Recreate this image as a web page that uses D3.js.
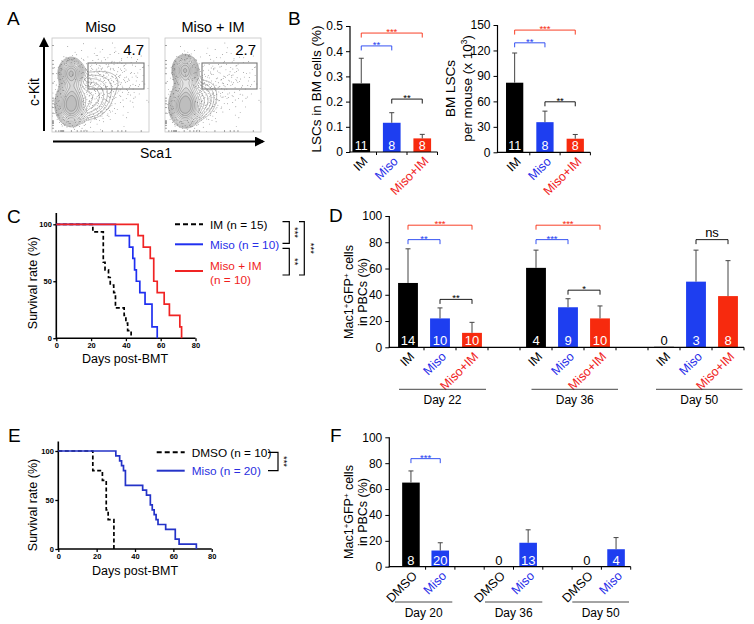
<!DOCTYPE html>
<html><head><meta charset="utf-8">
<script src="https://cdn.jsdelivr.net/npm/d3@7"></script>
<style>body{margin:0;background:#fff}svg{display:block}</style>
</head><body>
<script>
// ================= DATA =================
// Panel A (flow plots)
const flowTitles = ["Miso", "Miso + IM"];
const flowGatePct = ["4.7", "2.7"];
// density components [cx, cy, sx, sy, weight] in plot-local pixels (visual estimate)
const flowCompsMiso = [[19,35,5,6,1.0],[19,67,6,8,1.3],[20,51,5,10,0.4],[36,60,12,12,0.16],[58,42,20,16,0.035]];
const flowCompsMisoIM = [[20,32,5,6,1.0],[20,68,6,8,1.5],[21,50,5,10,0.4],[33,63,10,11,0.13],[58,42,20,16,0.025]];

// Panel B
const bGroups = ["IM", "Miso", "Miso+IM"];
const bLscPct = [0.272, 0.116, 0.054];
const bLscPctErr = [0.100, 0.040, 0.016];
const bLscCount = [82, 35.5, 16];
const bLscCountErr = [35, 13, 5];
const bN = [11, 8, 8];
const bPctTicks = [0, 0.1, 0.2, 0.3, 0.4, 0.5];
const bCountTicks = [0, 30, 60, 90, 120, 150];

// Panel C survival
const cIMDays = [0, 21, 27, 28, 30, 31, 33, 34, 39, 40, 41, 43];
const cIMSurv = [100, 93.3, 66.7, 60, 53.3, 46.7, 40, 26.7, 20, 13.3, 6.7, 0];
const cMisoDays = [0, 34, 42, 44, 45, 46, 48, 51, 55, 58];
const cMisoSurv = [100, 90, 80, 70, 60, 50, 40, 30, 10, 0];
const cComboDays = [0, 47, 50, 54, 56, 58, 62, 65, 71, 72];
const cComboSurv = [100, 90, 80, 70, 50, 40, 30, 20, 10, 0];
const survXTicks = [0, 20, 40, 60, 80];
const survYTicks = [0, 50, 100];

// Panel D
const dDays = ["Day 22", "Day 36", "Day 50"];
const dGroups = ["IM", "Miso", "Miso+IM"];
const dMean = [[49, 22, 11], [60.5, 30.5, 22], [0.4, 50, 39]];
const dErr = [[26, 8, 8], [13.5, 6.5, 9.5], [0, 24, 27]];
const dN = [[14, 10, 10], [4, 9, 10], [0, 3, 8]];
const pctTicks = [0, 20, 40, 60, 80, 100];

// Panel E survival
const eDmsoDays = [0, 18, 23, 25, 26, 29];
const eDmsoSurv = [100, 80, 70, 40, 30, 0];
const eMisoDays = [0, 30, 32, 33, 34, 35, 44, 46, 48, 49, 50, 51, 52, 56, 61, 63, 72];
const eMisoSurv = [100, 95, 90, 85, 80, 65, 60, 55, 45, 40, 35, 30, 25, 20, 10, 5, 0];

// Panel F
const fDays = ["Day 20", "Day 36", "Day 50"];
const fGroups = ["DMSO", "Miso"];
const fMean = [[65, 12.5], [0.4, 18.5], [0.4, 13.5]];
const fErr = [[9, 6], [0, 10], [0, 9]];
const fN = [[8, 20], [0, 13], [0, 4]];

// ================= STYLE =================
const FONT = "'Liberation Sans', Arial, Helvetica, sans-serif";
const BLUE = "#1e3ef0", RED = "#f72a0e", BLUE_T = "#2a2fe8", RED_T = "#f01e1e";
const groupColor = {"IM": "#000", "Miso": BLUE, "Miso+IM": RED, "DMSO": "#000"};
const labelColor = {"IM": "#000", "Miso": BLUE_T, "Miso+IM": RED_T, "DMSO": "#000"};

const svg = d3.select("body").append("svg").attr("width", 754).attr("height", 624)
  .style("font-family", FONT);
svg.append("rect").attr("width", 754).attr("height", 624).attr("fill", "#fff");

function txt(g, x, y, s, o = {}) {
  const t = g.append("text").attr("x", x).attr("y", y).text(s)
    .attr("font-size", o.size || 12).attr("fill", o.color || "#000")
    .attr("text-anchor", o.anchor || "start");
  if (o.weight) t.attr("font-weight", o.weight);
  if (o.rotate !== undefined) t.attr("transform", `rotate(${o.rotate},${x},${y})`);
  return t;
}
function supText(g, x, y, parts, o = {}) {
  const size = o.size || 13;
  const t = g.append("text").attr("x", x).attr("y", y).attr("font-size", size)
    .attr("text-anchor", "middle").attr("fill", "#000");
  if (o.rotate !== undefined) t.attr("transform", `rotate(${o.rotate},${x},${y})`);
  let up = false;
  parts.forEach(([s, sup]) => {
    const ts = t.append("tspan").text(s);
    if (sup) { ts.attr("font-size", size * 0.62); if (!up) { ts.attr("dy", -4.5); up = true; } }
    else if (up) { ts.attr("dy", 4.5); up = false; }
  });
  return t;
}

// panel letters
[["A", 7, 25], ["B", 288, 25], ["C", 7, 223], ["D", 329, 222], ["E", 8, 442], ["F", 330, 442]]
  .forEach(([l, x, y]) => txt(svg, x, y, l, {size: 19}));

// ================= PANEL A =================
function halton(i, b) { let f = 1, r = 0; while (i > 0) { f /= b; r += f * (i % b); i = Math.floor(i / b); } return r; }
function flowPlot(fx, fy, fw, fh, comps, title, pct, gate) {
  const g = svg.append("g");
  const dens = (px, py) => { let s = 0; for (const [cx, cy, sx, sy, w] of comps) { const dx = (px - cx) / sx, dy = (py - cy) / sy; s += w * Math.exp(-0.5 * (dx * dx + dy * dy)); } return s; };
  const vals = new Array(fw * fh);
  for (let j = 0; j < fh; j++) for (let i = 0; i < fw; i++) vals[j * fw + i] = dens(i + 0.5, j + 0.5);
  // scattered events (deterministic low-discrepancy sampling weighted by the density)
  const dots = [];
  for (let k = 1; k < 6000; k++) {
    const px = halton(k, 2) * fw, py = halton(k, 3) * fh, u = halton(k, 5);
    const d = dens(px, py);
    const p = d > 0.3 ? 0.01 : Math.min(0.24, d * 6);
    if (u < p) dots.push([px, py]);
  }
  g.selectAll(".dot").data(dots).join("circle").attr("cx", d => fx + d[0]).attr("cy", d => fy + d[1])
    .attr("r", 0.45).attr("fill", "#666");
  const th = d3.range(12).map(k => 0.035 * Math.pow(1.36, k));
  const cs = d3.contours().size([fw, fh]).thresholds(th)(vals);
  const path = d3.geoPath(d3.geoIdentity().translate([fx, fy]));
  g.selectAll(".ct").data(cs).join("path").attr("d", path)
    .attr("fill", "#000").attr("fill-opacity", d => d.value > 0.25 ? 0.055 : 0)
    .attr("stroke", "#666").attr("stroke-width", 0.45);
  g.append("rect").attr("x", fx).attr("y", fy).attr("width", fw).attr("height", fh)
    .attr("fill", "none").attr("stroke", "#c4c4c4").attr("stroke-width", 0.8);
  const tf = [0.04, 0.07, 0.09, 0.1, 0.11, 0.12, 0.2, 0.26, 0.3, 0.33, 0.36, 0.52, 0.62, 0.68, 0.72, 0.76, 0.92];
  tf.forEach(f => {
    g.append("line").attr("x1", fx + f * fw).attr("x2", fx + f * fw).attr("y1", fy + fh).attr("y2", fy + fh - 2).attr("stroke", "#666").attr("stroke-width", 0.6);
    g.append("line").attr("y1", fy + fh - f * fh).attr("y2", fy + fh - f * fh).attr("x1", fx).attr("x2", fx + 2).attr("stroke", "#666").attr("stroke-width", 0.6);
  });
  g.append("rect").attr("x", fx + gate[0]).attr("y", fy + gate[1]).attr("width", gate[2]).attr("height", gate[3])
    .attr("fill", "none").attr("stroke", "#777").attr("stroke-width", 1.1);
  txt(g, fx + fw / 2, 32, title, {size: 14.5, anchor: "middle"});
  txt(g, fx + fw - 5, 55, pct, {size: 15, anchor: "end"});
}
flowPlot(52, 38, 97, 94, flowCompsMiso, flowTitles[0], flowGatePct[0], [36, 25, 56, 26]);
flowPlot(165, 38, 96, 94, flowCompsMisoIM, flowTitles[1], flowGatePct[1], [37, 25, 55, 26]);
const defs = svg.append("defs");
defs.append("marker").attr("id", "arr").attr("viewBox", "0 0 10 10").attr("refX", 8).attr("refY", 5)
  .attr("markerWidth", 5).attr("markerHeight", 5).attr("orient", "auto")
  .append("path").attr("d", "M0,0 L10,5 L0,10 z").attr("fill", "#000");
svg.append("line").attr("x1", 44).attr("y1", 131).attr("x2", 44).attr("y2", 39).attr("stroke", "#000").attr("stroke-width", 2).attr("marker-end", "url(#arr)");
svg.append("line").attr("x1", 53).attr("y1", 141.5).attr("x2", 263).attr("y2", 141.5).attr("stroke", "#000").attr("stroke-width", 2).attr("marker-end", "url(#arr)");
txt(svg, 38.5, 92, "c-Kit", {size: 14, anchor: "middle", rotate: -90});
txt(svg, 156, 158, "Sca1", {size: 14, anchor: "middle"});

// ================= BAR CHART HELPER =================
function barChart(cfg) {
  const g = svg.append("g");
  const x = d3.scaleBand().domain(cfg.slots).range([cfg.x0, cfg.x1]).paddingInner(cfg.pad).paddingOuter(cfg.pad / 2);
  const y = d3.scaleLinear().domain([0, cfg.max]).range([cfg.zeroY, cfg.topY]);
  const ay = g.append("g").attr("transform", `translate(${cfg.axisX},0)`)
    .call(d3.axisLeft(y).tickValues(cfg.yTicks).tickSize(4).tickPadding(3).tickFormat(cfg.fmt));
  ay.select(".domain").remove();
  ay.attr("font-family", FONT).attr("font-size", cfg.tickSize || 12);
  ay.selectAll("line").attr("stroke", "#000");
  ay.selectAll("text").attr("fill", "#000");
  g.append("line").attr("x1", cfg.axisX).attr("x2", cfg.axisX).attr("y1", y(0) + 0.5).attr("y2", y(cfg.max))
    .attr("stroke", "#000").attr("stroke-width", 1.2);
  const step = x.step(), bw = x.bandwidth();
  g.selectAll(".bar").data(cfg.bars).join("rect")
    .attr("x", d => x(d.key)).attr("width", bw)
    .attr("y", d => y(d.value)).attr("height", d => y(0) - y(d.value))
    .attr("fill", d => d.color);
  cfg.bars.filter(d => d.err > 0).forEach(d => {
    const cx = x(d.key) + bw / 2;
    g.append("line").attr("x1", cx).attr("x2", cx).attr("y1", y(d.value)).attr("y2", y(d.value + d.err)).attr("stroke", "#444").attr("stroke-width", 1);
    g.append("line").attr("x1", cx - 2.5).attr("x2", cx + 2.5).attr("y1", y(d.value + d.err)).attr("y2", y(d.value + d.err)).attr("stroke", "#444").attr("stroke-width", 1);
  });
  g.append("line").attr("x1", cfg.axisX - 0.6).attr("x2", cfg.x1).attr("y1", y(0)).attr("y2", y(0)).attr("stroke", "#000").attr("stroke-width", 1.2);
  for (let k = 1; k <= cfg.slots.length; k++) {
    const tx = cfg.x0 + k * step;
    g.append("line").attr("x1", tx).attr("x2", tx).attr("y1", y(0)).attr("y2", y(0) + 3).attr("stroke", "#000").attr("stroke-width", 1);
  }
  cfg.bars.forEach(d => {
    const cx = x(d.key) + bw / 2;
    const tall = (y(0) - y(d.value)) > 10;
    txt(g, cx, y(0) - 2, String(d.n), {size: cfg.nSize || 12.5, anchor: "middle", color: tall ? "#fff" : "#000"});
  });
  cfg.bars.forEach(d => {
    const cx = x(d.key) + bw / 2 + 7, cy = y(0) + 10;
    txt(g, cx, cy, d.label, {size: 12.5, anchor: "end", color: labelColor[d.label], rotate: -45});
  });
  (cfg.brackets || []).forEach(b => {
    const xa = x(b.a) + bw / 2, xb = x(b.b) + bw / 2, yy = y(b.level);
    g.append("path").attr("d", `M${xa},${yy + 4.5}V${yy}H${xb}V${yy + 4.5}`).attr("fill", "none").attr("stroke", b.color).attr("stroke-width", 0.9);
    if (b.label === "ns") txt(g, (xa + xb) / 2, yy - 3, "ns", {size: 13, anchor: "middle", color: b.color});
    else txt(g, (xa + xb) / 2, yy + 2, b.label, {size: 9.5, anchor: "middle", color: b.color});
  });
  (cfg.groups || []).forEach(gr => {
    g.append("line").attr("x1", gr.x1).attr("x2", gr.x2).attr("y1", cfg.groupLineY).attr("y2", cfg.groupLineY).attr("stroke", "#333").attr("stroke-width", 0.9);
    txt(g, (gr.x1 + gr.x2) / 2, cfg.groupLineY + 15, gr.name, {size: 12, anchor: "middle"});
  });
  return {x, y, g};
}

// ================= PANEL B =================
const bBarsPct = bGroups.map((k, i) => ({key: k, label: k, value: bLscPct[i], err: bLscPctErr[i], n: bN[i], color: groupColor[k]}));
barChart({slots: bGroups, x0: 346, x1: 437.5, pad: 0.42, axisX: 350, zeroY: 152, topY: 26, max: 0.5,
  yTicks: bPctTicks, fmt: d => d === 0 ? "0" : d3.format(".1f")(d), bars: bBarsPct,
  brackets: [{a: "IM", b: "Miso+IM", level: 0.472, label: "***", color: RED},
             {a: "IM", b: "Miso", level: 0.421, label: "**", color: BLUE},
             {a: "Miso", b: "Miso+IM", level: 0.21, label: "**", color: "#000"}]});
txt(svg, 320.5, 89, "LSCs in BM cells (%)", {size: 13.5, anchor: "middle", rotate: -90});

const bBarsCount = bGroups.map((k, i) => ({key: k, label: k, value: bLscCount[i], err: bLscCountErr[i], n: bN[i], color: groupColor[k]}));
barChart({slots: bGroups, x0: 499.5, x1: 590.4, pad: 0.43, axisX: 497.5, zeroY: 152.3, topY: 25, max: 150,
  yTicks: bCountTicks, fmt: d3.format("d"), bars: bBarsCount,
  brackets: [{a: "IM", b: "Miso+IM", level: 144, label: "***", color: RED},
             {a: "IM", b: "Miso", level: 129, label: "**", color: BLUE},
             {a: "Miso", b: "Miso+IM", level: 59.5, label: "**", color: "#000"}]});
txt(svg, 455, 88.5, "BM LSCs", {size: 13.5, anchor: "middle", rotate: -90});
supText(svg, 471.5, 88.5, [["per mouse (x 10", false], ["3", true], [")", false]], {size: 13.5, rotate: -90});

// ================= SURVIVAL HELPER =================
function survival(cfg) {
  const g = svg.append("g");
  const x = d3.scaleLinear().domain([0, 80]).range([cfg.left, cfg.right]);
  const y = d3.scaleLinear().domain([0, 100]).range([cfg.bottom, cfg.top]);
  const ax = g.append("g").attr("transform", `translate(0,${cfg.bottom})`)
    .call(d3.axisBottom(x).tickValues(survXTicks).tickSize(3).tickPadding(1.5));
  ax.select(".domain").remove();
  ax.attr("font-family", FONT).attr("font-size", 7.5).attr("font-weight", "bold");
  ax.selectAll("line").attr("stroke", "#000").attr("stroke-width", 1.3);
  const ayg = g.append("g").attr("transform", `translate(${cfg.left},0)`)
    .call(d3.axisLeft(y).tickValues(survYTicks).tickSize(3).tickPadding(1.5));
  ayg.select(".domain").remove();
  ayg.attr("font-family", FONT).attr("font-size", 7.5).attr("font-weight", "bold");
  ayg.selectAll("line").attr("stroke", "#000").attr("stroke-width", 1.3);
  g.append("line").attr("x1", cfg.left).attr("x2", cfg.left).attr("y1", cfg.bottom + 0.7).attr("y2", cfg.axisTop).attr("stroke", "#000").attr("stroke-width", 1.6);
  g.append("line").attr("x1", cfg.left).attr("x2", cfg.right).attr("y1", cfg.bottom).attr("y2", cfg.bottom).attr("stroke", "#000").attr("stroke-width", 1.6);
  const line = d3.line().x(d => x(d[0])).y(d => y(d[1])).curve(d3.curveStepAfter);
  cfg.curves.forEach(c => {
    g.append("path").attr("d", line(d3.zip(c.days, c.surv))).attr("fill", "none")
      .attr("stroke", c.color).attr("stroke-width", 1.7).attr("stroke-dasharray", c.dash || null);
  });
  cfg.curves.forEach(c => {
    g.append("line").attr("x1", cfg.legX).attr("x2", cfg.legX + 28).attr("y1", c.legY).attr("y2", c.legY)
      .attr("stroke", c.color).attr("stroke-width", 2).attr("stroke-dasharray", c.dash ? "5,3" : null);
    c.legText.forEach((t, i) => txt(g, cfg.legX + 35, c.legY + 4.2 + (c.textOff || 0) + i * 14.5, t, {size: 11.8, color: c.textColor}));
  });
  return g;
}

// ================= PANEL C =================
const gC = survival({left: 56.3, right: 195.5, top: 224.3, bottom: 338.2, axisTop: 213,
  legX: 175,
  curves: [
    {days: cIMDays, surv: cIMSurv, color: "#000", dash: "4,2.5", legY: 224.3, legText: ["IM (n = 15)"], textColor: "#000"},
    {days: cMisoDays, surv: cMisoSurv, color: "#2030f0", legY: 244.3, legText: ["Miso (n = 10)"], textColor: BLUE_T},
    {days: cComboDays, surv: cComboSurv, color: "#f02424", legY: 271, legText: ["Miso + IM", "(n = 10)"], textColor: RED_T, textOff: -5.5}
  ]});
txt(svg, 37, 283, "Survival rate (%)", {size: 12.5, anchor: "middle", rotate: -90});
txt(svg, 125, 362.5, "Days post-BMT", {size: 12.5, anchor: "middle"});
gC.append("path").attr("d", "M282.5,221.7H289.3V243.3H282.5").attr("fill", "none").attr("stroke", "#000").attr("stroke-width", 1.2);
gC.append("path").attr("d", "M282.5,248.3H289.3V275H282.5").attr("fill", "none").attr("stroke", "#000").attr("stroke-width", 1.2);
gC.append("path").attr("d", "M299,221.7H304.3V275H299").attr("fill", "none").attr("stroke", "#000").attr("stroke-width", 1.2);
txt(gC, 292, 232.5, "***", {size: 9.5, anchor: "middle", rotate: 90});
txt(gC, 292, 261.7, "**", {size: 9.5, anchor: "middle", rotate: 90});
txt(gC, 307.5, 248.3, "***", {size: 9.5, anchor: "middle", rotate: 90});

// ================= PANEL D =================
const dSlots = [], dBars = [];
dDays.forEach((day, di) => {
  dGroups.forEach((gr, gi) => {
    const key = day + "|" + gr;
    dSlots.push(key);
    dBars.push({key, label: gr, value: dMean[di][gi], err: dErr[di][gi], n: dN[di][gi], color: groupColor[gr]});
  });
  if (di < dDays.length - 1) dSlots.push("gap" + di);
});
barChart({slots: dSlots, x0: 392, x1: 744, pad: 0.38, axisX: 389.3, zeroY: 347.3, topY: 216, max: 100,
  yTicks: pctTicks, fmt: d3.format("d"), bars: dBars, nSize: 13,
  brackets: [
    {a: "Day 22|IM", b: "Day 22|Miso+IM", level: 93, label: "***", color: RED},
    {a: "Day 22|IM", b: "Day 22|Miso", level: 82, label: "**", color: BLUE},
    {a: "Day 22|Miso", b: "Day 22|Miso+IM", level: 36.5, label: "**", color: "#000"},
    {a: "Day 36|IM", b: "Day 36|Miso+IM", level: 93, label: "***", color: RED},
    {a: "Day 36|IM", b: "Day 36|Miso", level: 82, label: "***", color: BLUE},
    {a: "Day 36|Miso", b: "Day 36|Miso+IM", level: 43.5, label: "*", color: "#000"},
    {a: "Day 50|Miso", b: "Day 50|Miso+IM", level: 82, label: "ns", color: "#000"}],
  groupLineY: 389.3,
  groups: [{name: dDays[0], x1: 399, x2: 486}, {name: dDays[1], x1: 531.5, x2: 618}, {name: dDays[2], x1: 656, x2: 742.5}]});
supText(svg, 353, 292, [["Mac1", false], ["+", true], ["GFP", false], ["+", true], [" cells", false]], {size: 12.5, rotate: -90});
txt(svg, 367, 292, "in PBCs (%)", {size: 12.5, anchor: "middle", rotate: -90});

// ================= PANEL E =================
const gE = survival({left: 58.3, right: 211.7, top: 451, bottom: 549, axisTop: 441.5,
  legX: 156.7,
  curves: [
    {days: eDmsoDays, surv: eDmsoSurv, color: "#000", dash: "4,2.5", legY: 452.3, legText: ["DMSO (n = 10)"], textColor: "#000"},
    {days: eMisoDays, surv: eMisoSurv, color: "#2433c8", legY: 470.7, legText: ["Miso (n = 20)"], textColor: "#2a2fe0"}
  ]});
txt(svg, 37, 505, "Survival rate (%)", {size: 12.5, anchor: "middle", rotate: -90});
txt(svg, 135, 574.5, "Days post-BMT", {size: 12.5, anchor: "middle"});
gE.append("path").attr("d", "M268,452.3H278V470.7H268").attr("fill", "none").attr("stroke", "#000").attr("stroke-width", 1.2);
txt(gE, 281, 461.5, "***", {size: 9.5, anchor: "middle", rotate: 90});

// ================= PANEL F =================
const fSlots = [], fBars = [];
fDays.forEach((day, di) => {
  fGroups.forEach((gr, gi) => {
    const key = day + "|" + gr;
    fSlots.push(key);
    fBars.push({key, label: gr, value: fMean[di][gi], err: fErr[di][gi], n: fN[di][gi], color: groupColor[gr]});
  });
  if (di < fDays.length - 1) fSlots.push("gap" + di);
});
barChart({slots: fSlots, x0: 396.3, x1: 630.7, pad: 0.4, axisX: 389.3, zeroY: 566.7, topY: 437.3, max: 100,
  yTicks: pctTicks, fmt: d3.format("d"), bars: fBars, nSize: 13,
  brackets: [{a: "Day 20|DMSO", b: "Day 20|Miso", level: 83.5, label: "***", color: BLUE}],
  groupLineY: 602,
  groups: [{name: fDays[0], x1: 395, x2: 452.3}, {name: fDays[1], x1: 485, x2: 542.3}, {name: fDays[2], x1: 572.3, x2: 629}]});
supText(svg, 353, 512, [["Mac1", false], ["+", true], ["GFP", false], ["+", true], [" cells", false]], {size: 12.5, rotate: -90});
txt(svg, 367, 512, "in PBCs (%)", {size: 12.5, anchor: "middle", rotate: -90});
</script>
</body></html>
